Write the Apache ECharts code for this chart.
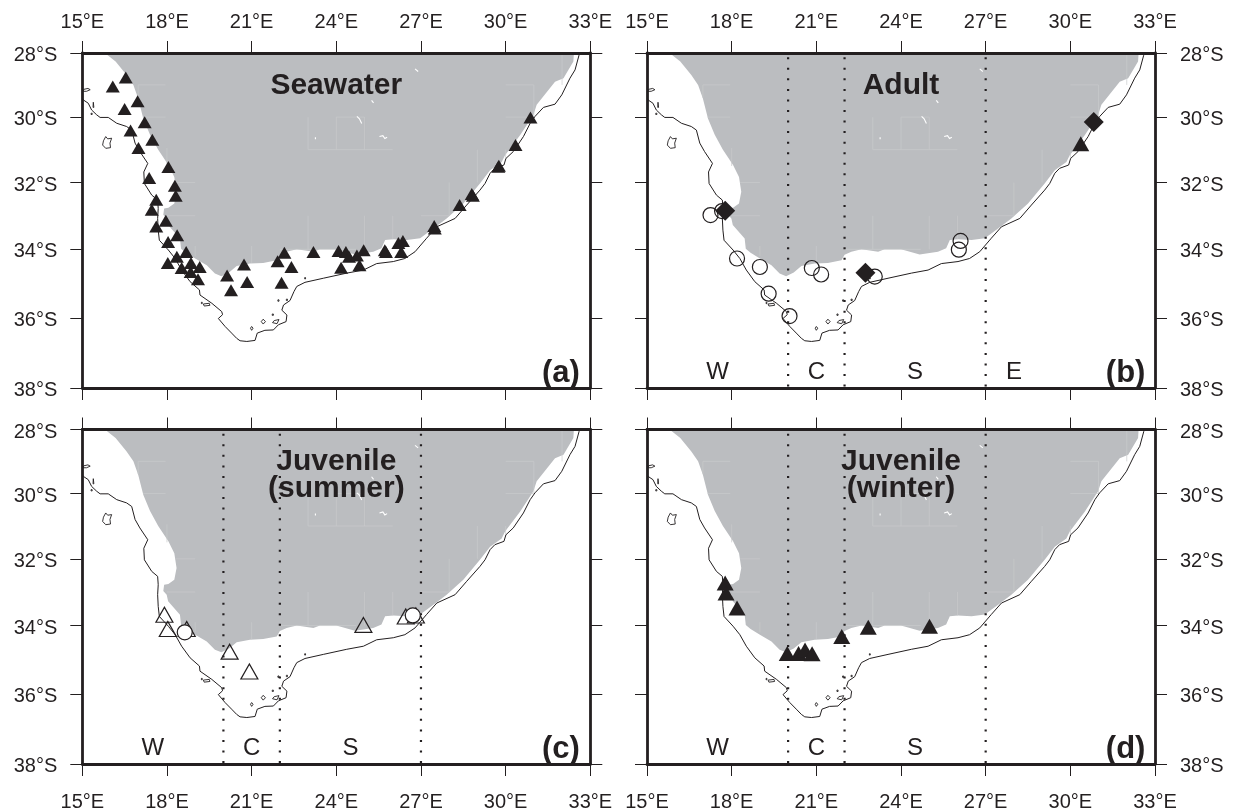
<!DOCTYPE html>
<html><head><meta charset="utf-8">
<style>html,body{margin:0;padding:0;background:#fff}#c{width:1233px;height:812px}</style>
<script src="https://cdn.jsdelivr.net/npm/echarts@6/dist/echarts.min.js"></script>
</head><body><div id="c"></div>
<script>
const lonTicks=[15,18,21,24,27,30,33];
const latTicks=[28,30,32,34,36,38];
const coast=[[15,29.42],[15.04,29.47],[15.21,29.57],[15.33,29.78],[15.51,29.93],[15.63,30.01],[15.92,30.01],[16.22,30.19],[16.57,30.29],[16.75,30.40],[16.87,30.80],[17.04,31.06],[17.32,31.42],[17.18,31.68],[17.2,32.03],[17.46,32.38],[17.67,32.53],[17.69,32.78],[17.67,33.08],[17.69,33.43],[17.73,33.73],[18.05,34.02],[18.29,34.27],[18.52,34.61],[18.82,34.95],[19.15,35.19],[19.17,35.34],[19.59,35.58],[19.94,35.82],[19.97,35.91],[19.82,36.02],[20.06,36.25],[20.29,36.44],[20.47,36.59],[20.59,36.66],[20.83,36.68],[21.12,36.65],[21.2,36.44],[21.47,36.36],[21.77,36.35],[21.95,36.2],[22.22,36.11],[22.25,35.92],[22.07,35.78],[22.13,35.63],[22.36,35.5],[22.5,35.24],[22.6,35.09],[22.89,34.97],[23.54,34.85],[24.37,34.70],[24.96,34.61],[25.43,34.42],[26.02,34.36],[26.43,34.27],[26.79,34.07],[27.2,33.67],[27.56,33.33],[28.21,33.08],[28.62,32.68],[29.09,32.23],[29.27,32.03],[29.45,31.72],[29.62,31.57],[29.94,31.47],[30.01,31.27],[30.27,31.06],[30.63,30.60],[30.87,30.19],[31.04,29.98],[31.34,29.70],[31.75,29.60],[31.99,29.31],[32.28,28.79],[32.46,28.53],[32.6,28.07],[32.62,28]];
const landEdge=[[15.8,28],[16.18,28.27],[16.57,28.69],[16.81,29.0],[16.98,29.42],[17.16,30.04],[17.4,30.54],[17.69,31.0],[18.05,31.47],[18.26,31.83],[18.34,32.28],[18.26,32.63],[18.05,32.76],[17.9,32.78],[17.87,32.97],[17.99,33.08],[18.04,33.28],[18.46,33.68],[18.5,33.98],[18.67,34.1],[19.0,34.27],[19.41,34.47],[19.7,34.71],[19.93,34.79],[20.2,34.68],[20.47,34.49],[20.94,34.42],[21.41,34.4],[21.89,34.32],[22.0,34.16],[22.24,34.07],[22.6,34.0],[23.19,34.07],[23.42,34.0],[24.0,34.0],[24.66,34.15],[25.31,34.07],[25.6,33.97],[25.73,33.72],[26.02,33.7],[26.5,33.72],[26.97,33.67],[27.44,33.38],[27.91,33.08],[28.5,32.63],[29.09,32.03],[29.45,31.63],[29.86,31.38],[29.98,31.17],[30.51,30.56],[30.98,29.94],[31.1,29.62],[31.75,28.9],[32.05,28.79],[32.4,28.27],[32.42,28]];
const graticule=[[[16.98,29],[17.95,29]],[[16.98,29],[16.98,29.4]],[[17.15,30],[17.95,30]],[[18,30.95],[18,31.5]],[[18.3,32],[19,32]],[[18,33],[19,33]],[[19,33.9],[19,34.2]],[[21,33.9],[21,34.4]],[[22,34],[24.7,34]],[[23,33],[23,34]],[[25,33],[25,34]],[[26,33],[26,33.7]],[[27,33],[28,33]],[[28,32],[28,33]],[[29,31],[29,32]],[[30,31],[30,31.3]],[[30,30],[31,30]],[[30,29],[31,29]],[[31,29],[31,30]],[[32,28],[32,29]],[[24,30],[25,30]],[[23,31],[26,31]],[[23,30],[23,31]],[[24,30],[24,31]],[[25,30],[25,31]]];
const lakes=[[[26.79,28.5],[26.9,28.58]],[[25.25,29.48],[25.32,29.56]],[[24.73,29.98],[24.82,30.05],[24.9,30.2]],[[25.53,30.6],[25.65,30.57],[25.72,30.66],[25.8,30.62]],[[23.26,30.62],[23.26,30.68]]];
const islands=[[[15.05,29.14],[15.2,29.11],[15.28,29.15],[15.15,29.2],[15.03,29.2],[15.05,29.14]],[[15.39,29.54],[15.41,29.7],[15.38,29.7],[15.39,29.54]],[[15.31,29.88],[15.35,29.88],[15.35,29.92],[15.31,29.92],[15.31,29.88]],[[15.83,30.6],[15.9,30.67],[16.04,30.65],[15.98,30.8],[16.0,30.94],[15.83,30.96],[15.72,30.86],[15.75,30.73],[15.83,30.6]],[[19.29,35.6],[19.5,35.58],[19.52,35.64],[19.32,35.66],[19.29,35.6]],[[19.22,35.55],[19.25,35.55],[19.25,35.59],[19.22,35.59],[19.22,35.55]],[[21.0,36.25],[21.05,36.3],[21.0,36.36],[20.96,36.3],[21.0,36.25]],[[21.41,36.04],[21.49,36.11],[21.41,36.18],[21.34,36.11],[21.41,36.04]],[[21.8,36.08],[21.97,36.05],[21.9,36.17],[21.74,36.14],[21.8,36.08]],[[21.73,35.89],[21.77,35.89],[21.77,35.93],[21.73,35.93],[21.73,35.89]],[[22.88,34.83],[22.91,34.83],[22.91,34.87],[22.88,34.87],[22.88,34.83]],[[22.23,35.46],[22.27,35.46],[22.27,35.5],[22.23,35.5],[22.23,35.46]],[[21.93,35.48],[21.97,35.48],[21.97,35.52],[21.93,35.52],[21.93,35.48]]];
const seawaterTriangles=[[16.08,29.05],[16.54,28.77],[16.96,29.51],[16.5,29.75],[17.21,30.16],[16.71,30.41],[17.48,30.70],[16.99,30.95],[18.05,31.53],[17.37,31.86],[18.28,32.1],[18.31,32.4],[17.62,32.52],[17.46,32.82],[17.96,33.15],[17.62,33.32],[18.36,33.58],[18.04,33.78],[18.68,34.08],[18.35,34.22],[18.03,34.4],[18.85,34.4],[19.16,34.52],[18.52,34.55],[18.84,34.67],[19.1,34.88],[20.13,34.77],[20.27,35.2],[20.73,34.45],[20.84,34.96],[21.92,34.35],[22.16,34.1],[22.41,34.52],[22.06,34.98],[23.19,34.08],[24.08,34.05],[24.34,34.08],[24.45,34.22],[24.73,34.18],[24.97,34.03],[24.17,34.54],[24.82,34.47],[25.72,34.03],[25.76,34.08],[26.3,34.08],[26.2,33.81],[26.36,33.75],[27.47,33.31],[27.49,33.38],[28.37,32.68],[28.8,32.35],[28.84,32.4],[29.76,31.49],[29.74,31.52],[30.35,30.86],[30.88,30.01]];
const adultCircles=[[17.25,32.98],[17.66,32.86],[18.19,34.27],[19.0,34.52],[19.31,35.3],[20.05,35.95],[20.84,34.55],[21.17,34.74],[23.07,34.8],[26.11,33.75],[26.05,34.01]];
const adultDiamonds=[[17.77,32.85],[22.74,34.69],[30.83,30.15]];
const adultTriangles=[[30.37,30.82]];
const summerTriangles=[[17.91,33.68],[18.03,34.1],[18.7,34.1],[20.22,34.77],[20.92,35.35],[24.96,33.98],[26.46,33.73],[26.82,33.7]];
const summerCircles=[[18.63,34.2],[26.71,33.7]];
const winterTriangles=[[17.77,32.73],[17.8,33.03],[18.19,33.48],[19.97,34.82],[20.37,34.82],[20.6,34.72],[20.85,34.83],[21.9,34.32],[22.84,34.05],[25.01,34.02]];
const boundaries=[20,22,27];
const adultRegions=[["W",17.5],["C",21],["S",24.5],["E",28]];
const juvenileRegions=[["W",17.5],["C",21],["S",24.5]];

const INK='#231F20',LAND='#BBBDC0';
const rad=Math.PI/180;
const merc=lat=>Math.log(Math.tan(Math.PI/4+lat*rad/2));
const unmerc=y=>Math.round((2*Math.atan(Math.exp(y))-Math.PI/2)/rad);
const FONT='"Liberation Sans",Arial,sans-serif';
const P=p=>[p[0],merc(p[1])];

const panels=[
 {left:82.3,top:53,title:'Seawater',titleLat:29.03,tag:'(a)',lat:'left',lon:'top',regions:[],lines:false},
 {left:647,top:53,title:'Adult',titleLat:29.03,tag:'(b)',lat:'right',lon:'top',regions:adultRegions,lines:true},
 {left:82.3,top:429.5,title:'Juvenile\n(summer)',titleLat:29.43,tag:'(c)',lat:'left',lon:'bottom',regions:juvenileRegions,lines:true},
 {left:647,top:429.5,title:'Juvenile\n(winter)',titleLat:29.43,tag:'(d)',lat:'right',lon:'bottom',regions:juvenileRegions,lines:true}
];
const markers=[
 [{d:seawaterTriangles,s:'triangle',z:[14,12],fill:INK}],
 [{d:adultCircles,s:'circle',z:15,hollow:true},{d:adultDiamonds,s:'diamond',z:[20,20],fill:INK},{d:adultTriangles,s:'triangle',z:[17,15],fill:INK}],
 [{d:summerTriangles,s:'triangle',z:[17,15],hollow:true},{d:summerCircles,s:'circle',z:15,white:true}],
 [{d:winterTriangles,s:'triangle',z:[17,15],fill:INK}]
];
const grid=[],xAxis=[],yAxis=[],series=[];
panels.forEach((p,i)=>{
  grid.push({left:p.left,top:p.top,width:508,height:335});
  ['top','bottom'].forEach(pos=>xAxis.push({gridIndex:i,type:'value',position:pos,min:15,max:33,interval:3,z:10,
    splitLine:{show:false},
    axisLine:{onZero:false,lineStyle:{color:INK,width:2.8}},
    axisTick:{show:true,length:12,inside:false,lineStyle:{color:INK,width:1}},
    axisLabel:{show:pos===p.lon,margin:pos==='top'?21:28,color:INK,fontFamily:FONT,fontSize:20,showMinLabel:true,showMaxLabel:true,formatter:v=>v+'°E'}}));
  ['left','right'].forEach(pos=>yAxis.push({gridIndex:i,type:'value',position:pos,inverse:true,min:merc(28),max:merc(38),z:10,
    splitLine:{show:false},
    axisLine:{onZero:false,lineStyle:{color:INK,width:2.8}},
    axisTick:{show:true,length:12,inside:false,customValues:latTicks.map(merc),lineStyle:{color:INK,width:1}},
    axisLabel:{show:pos===p.lat,margin:25,color:INK,fontFamily:FONT,fontSize:20,customValues:latTicks.map(merc),showMinLabel:true,showMaxLabel:true,
      rich:{t:{color:INK,fontFamily:FONT,fontSize:20,padding:[5,0,0,0]}},
      formatter:v=>'{t|'+unmerc(v)+'°S}'}}));
  const ax={xAxisIndex:2*i,yAxisIndex:2*i,coordinateSystem:'cartesian2d'};
  const shapes=(list,type,style)=>({...ax,type:'custom',silent:true,z:2,data:list.map(l=>P(l[0])),clip:true,
    renderItem:(params,api)=>({type,shape:{points:list[params.dataIndex].map(q=>api.coord(P(q)))},style})});
  series.push(shapes([landEdge],'polygon',{fill:LAND,stroke:null}));
  series.push(shapes(graticule,'polyline',{stroke:'#C9CACC',lineWidth:0.7,fill:null}));
  series.push(shapes(lakes,'polyline',{stroke:'#ffffff',lineWidth:1.1,fill:null}));
  series.push(shapes([coast],'polyline',{stroke:INK,lineWidth:1,fill:null}));
  series.push(shapes(islands,'polyline',{stroke:INK,lineWidth:0.9,fill:null}));
  if(p.lines) boundaries.forEach(b=>series.push({...ax,type:'line',silent:true,z:3,symbol:'none',animation:false,
    data:[P([b,28]),P([b,38])],
    lineStyle:{color:INK,width:2.2,type:[2,8.56],dashOffset:6.36}}));
  markers[i].forEach(m=>series.push({...ax,type:'scatter',silent:true,z:4,symbol:m.s,symbolSize:m.z,
    data:m.d.map(P),
    itemStyle:(m.hollow||m.white)?{opacity:1,color:m.white?'#fff':'rgba(0,0,0,0)',borderColor:INK,borderWidth:1.2}:{opacity:1,color:m.fill,borderWidth:0}}));
  const text=(rows,size,weight,lh)=>({...ax,type:'custom',silent:true,z:6,data:rows.map(r=>P([r[1],r[2]])),
    renderItem:(params,api)=>{const c=api.coord([api.value(0),api.value(1)]);
      return {type:'text',x:c[0],y:c[1],z2:100,style:{text:rows[params.dataIndex][0],align:'center',verticalAlign:'middle',fill:INK,fontFamily:FONT,fontSize:size,fontWeight:weight,lineHeight:lh}};}});
  series.push(text([[p.title,24,p.titleLat]],30,'bold',27));
  series.push(text([[p.tag,31.96,37.58]],31,'bold',30));
  if(p.regions.length) series.push(text(p.regions.map(r=>[r[0],r[1],37.55]),24,'normal',24));
});
const chart=echarts.init(document.getElementById('c'),null,{renderer:'canvas'});
chart.setOption({animation:false,backgroundColor:'#fff',grid,xAxis,yAxis,series});
</script></body></html>
